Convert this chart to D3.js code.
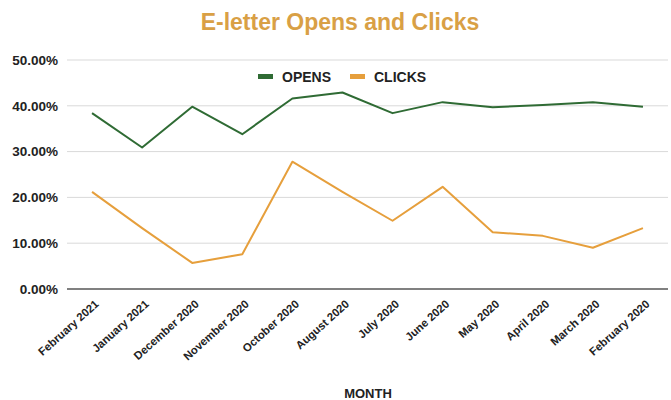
<!DOCTYPE html>
<html>
<head>
<meta charset="utf-8">
<script src="https://cdn.jsdelivr.net/npm/d3@7"></script>
<style>
  body { margin: 0; background: #fff; }
  text { font-family: "Liberation Sans", Arial, sans-serif; }
</style>
</head>
<body>
<div id="chart"></div>
<script>
// data
let months = ["February 2021", "January 2021", "December 2020", "November 2020", "October 2020", "August 2020",
              "July 2020", "June 2020", "May 2020", "April 2020", "March 2020", "February 2020"]
let opens = [38.4, 30.9, 39.8, 33.8, 41.6, 42.9, 38.4, 40.8, 39.7, 40.2, 40.8, 39.8]
let clicks = [21.2, 13.3, 5.7, 7.6, 27.8, 21.2, 14.9, 22.3, 12.4, 11.6, 9.0, 13.3]
let yTicks = [0, 10, 20, 30, 40, 50]

let seriesNames = ["OPENS", "CLICKS"]
let seriesColours = ["#2f6b34", "#e69f3c"]

let svgWidth = 671
let svgHeight = 400
let margin = {top: 60, right: 3, bottom: 111, left: 67}

let svg = d3.select("#chart")
    .append("svg")
        .attr("width", svgWidth)
        .attr("height", svgHeight)

//scales
let x = d3.scalePoint()
    .domain(months)
    .range([margin.left, svgWidth - margin.right])
    .padding(0.5)

let y = d3.scaleLinear()
    .domain([0, 50])
    .range([svgHeight - margin.bottom, margin.top])

//gridlines
svg.append("g")
    .selectAll("line")
    .data(yTicks.filter(d => d > 0))
    .join("line")
    .attr("x1", margin.left)
    .attr("x2", 668)
    .attr("y1", d => y(d))
    .attr("y2", d => y(d))
    .attr("stroke", "#d9d9d9")
    .attr("stroke-width", 1)

//y axis labels
let yAxis = svg.append("g")
    .attr("transform", `translate(${margin.left},0)`)
    .call(d3.axisLeft(y).tickValues(yTicks).tickSize(0).tickPadding(9).tickFormat(d => d.toFixed(2) + "%"))
yAxis.select(".domain").remove()
yAxis.selectAll("text")
    .attr("font-size", 13.5)
    .attr("font-weight", "bold")
    .attr("fill", "#222")
    .attr("font-family", "Liberation Sans, Arial, sans-serif")

//baseline
svg.append("line")
    .attr("x1", margin.left)
    .attr("x2", 668)
    .attr("y1", y(0))
    .attr("y2", y(0))
    .attr("stroke", "#808080")
    .attr("stroke-width", 2)

//x axis labels
let xAxis = svg.append("g")
    .attr("transform", `translate(0,${y(0)})`)
    .call(d3.axisBottom(x).tickSize(0).tickPadding(0))
xAxis.select(".domain").remove()
xAxis.selectAll("text")
    .attr("font-size", 11.3)
    .attr("font-weight", "bold")
    .attr("fill", "#222")
    .attr("font-family", "Liberation Sans, Arial, sans-serif")
    .attr("text-anchor", "end")
    .attr("dy", null)
    .attr("y", 0)
    .attr("transform", "translate(7,16) rotate(-42)")

//lines
let line = d3.line()
    .x((d, i) => x(months[i]))
    .y(d => y(d))

;[opens, clicks].forEach(function(series, i){
    svg.append("path")
        .datum(series)
        .attr("d", line)
        .attr("fill", "none")
        .attr("stroke", seriesColours[i])
        .attr("stroke-width", 2)
        .attr("stroke-linejoin", "round")
})

// GRAPH TITLE
svg.append("text")
    .attr("x", 340)
    .attr("y", 30)
    .attr("text-anchor", "middle")
    .attr("fill", "#d9a045")
    .attr("font-size", 23)
    .attr("font-weight", "bold")
    .text("E-letter Opens and Clicks")

//legend
let legendX = [258, 350]
seriesNames.forEach(function(name, i){
    svg.append("rect")
        .attr("x", legendX[i])
        .attr("y", 74)
        .attr("width", 15)
        .attr("height", 5)
        .attr("fill", seriesColours[i])
    svg.append("text")
        .attr("x", legendX[i] + 24)
        .attr("y", 82)
        .attr("fill", "#222")
        .attr("font-size", 14)
        .attr("font-weight", "bold")
        .text(name)
})

//x axis title
svg.append("text")
    .attr("x", 368)
    .attr("y", 398)
    .attr("text-anchor", "middle")
    .attr("fill", "#222")
    .attr("font-size", 13)
    .attr("font-weight", "bold")
    .text("MONTH")
</script>
</body>
</html>
